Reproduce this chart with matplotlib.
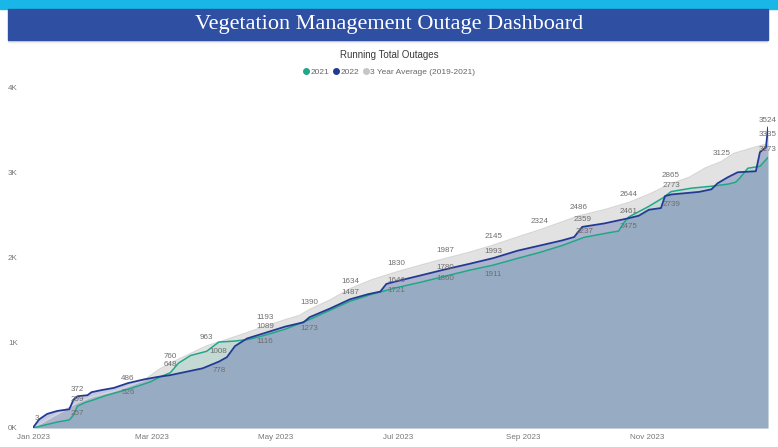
import matplotlib
matplotlib.use("Agg")
import matplotlib.pyplot as plt
import matplotlib.dates as mdates
from matplotlib.lines import Line2D
from matplotlib.patches import Rectangle
import numpy as np
import pandas as pd

# running totals, keyed by day of year (0 = Jan 1)
avg_days = [0, 3, 8, 15, 22, 30, 40, 47, 55, 62, 68, 76, 86, 95, 105, 115, 125, 132, 137,
            147, 157, 168, 180, 192, 204, 216, 228, 240, 251, 260, 270, 283, 295, 305, 316,
            325, 333, 341, 347, 357, 364]
avg_vals = [0, 40, 110, 200, 299, 370, 430, 486, 560, 680, 760, 850, 963, 1030, 1110, 1193,
            1270, 1320, 1390, 1500, 1634, 1740, 1830, 1910, 1987, 2060, 2145, 2240, 2324,
            2400, 2486, 2560, 2644, 2740, 2865, 2940, 3050, 3125, 3220, 3290, 3335]

y2021_days = [0, 5, 12, 18, 20, 22, 26, 30, 36, 42, 47, 53, 58, 63, 68, 72, 78, 86, 92,
              100, 107, 115, 125, 137, 147, 157, 168, 180, 192, 204, 216, 228, 240, 251,
              262, 273, 285, 290, 293, 295, 305, 312, 316, 326, 336, 344, 348, 350, 354,
              360, 364]
y2021_vals = [0, 30, 70, 95, 150, 257, 300, 330, 380, 420, 455, 500, 540, 600, 648, 760,
              850, 900, 1008, 1020, 1040, 1089, 1160, 1273, 1380, 1487, 1570, 1646, 1710,
              1780, 1850, 1911, 1990, 2060, 2140, 2237, 2290, 2310, 2420, 2475, 2600, 2700,
              2773, 2813, 2836, 2860, 2883, 2930, 3047, 3070, 3173]

y2022_days = [0, 3, 7, 12, 18, 20, 22, 27, 29, 34, 40, 47, 55, 62, 68, 76, 84, 92, 96,
              100, 106, 115, 125, 134, 137, 147, 157, 166, 172, 175, 180, 192, 204, 216,
              228, 240, 251, 262, 268, 272, 283, 295, 300, 305, 311, 313, 316, 330, 336,
              339, 344, 349, 358, 360, 363, 364]
y2022_vals = [3, 100, 165, 200, 220, 330, 372, 385, 420, 445, 470, 526, 570, 600, 620,
              660, 700, 778, 830, 960, 1050, 1116, 1190, 1240, 1300, 1400, 1510, 1570, 1600,
              1690, 1721, 1790, 1860, 1925, 1993, 2080, 2140, 2200, 2240, 2359, 2400, 2461,
              2490, 2560, 2580, 2720, 2739, 2770, 2800, 2870, 2940, 3000, 3012, 3235, 3293,
              3524]

# days that carry a data label, with the label's vertical shift in points
avg_label_days = [22, 47, 68, 86, 115, 137, 157, 180, 204, 228, 251, 270, 295, 316, 341, 364]
avg_label_dy = [2, 6, 5, 6, 6, 5, 5, 6, 6, 6, 6, 6, 6, 6, 6, 6.5]
y2021_label_days = [22, 68, 92, 115, 137, 157, 180, 204, 228, 273, 295, 316, 364]
y2021_label_dy = [-5, 6, -7, 6, -6.5, 6, 5.5, 6, -7, 4.5, -7, 4.5, 6]
y2022_label_days = [0, 22, 47, 92, 115, 180, 204, 228, 272, 295, 316, 364]
y2022_label_dy = [6.5, 5, -7, -6.5, -6.5, -6.5, -6.5, 5, 5.5, 5, -7, 5]

start = pd.Timestamp("2023-01-01")


def to_dates(days):
    return start + pd.to_timedelta(days, unit="D")


c_avg = "#c6c6c6"
c_21 = "#1fa788"
c_22 = "#233a94"
label_col = "#6e6e6e"

fig = plt.figure(figsize=(7.78, 4.47), dpi=100)
W, H = 778, 447

# header strip and banner
fig.patches.append(Rectangle((0, 1 - 9 / H), 1, 9 / H, transform=fig.transFigure,
                             color="#19b7e8", zorder=0))
for i, a in enumerate([0.18, 0.12, 0.07, 0.03]):
    fig.patches.append(Rectangle((8 / W, 1 - (41 + i) / H), 760 / W, 1 / H,
                                 transform=fig.transFigure, color="black", alpha=a, lw=0))
fig.patches.append(Rectangle((8 / W, 1 - 40 / H), 760 / W, 31 / H, transform=fig.transFigure,
                             color="#2e4fa2", zorder=1))
fig.text(0.5, 1 - 24 / H, "Vegetation Management Outage Dashboard", ha="center", va="center",
         color="white", fontsize=16, family="Liberation Serif")

fig.text(0.5, 1 - 55 / H, "Running Total Outages", ha="center", va="center",
         color="#3a3a3a", fontsize=7, family="Liberation Sans")

ax = fig.add_axes([33 / W, (H - 428) / H, 735 / W, 341 / H])

for days, vals, col, a in [(avg_days, avg_vals, c_avg, 0.5),
                           (y2021_days, y2021_vals, c_21, 0.15),
                           (y2022_days, y2022_vals, c_22, 0.28)]:
    ax.fill_between(to_dates(days), 0, vals, color=col, alpha=a, lw=0)
for days, vals, col, lw in [(avg_days, avg_vals, "#d6d6d6", 1.0),
                            (y2021_days, y2021_vals, c_21, 1.1),
                            (y2022_days, y2022_vals, c_22, 1.3)]:
    ax.plot(to_dates(days), vals, color=col, lw=lw)

for days, vals, ldays, ldy in [(avg_days, avg_vals, avg_label_days, avg_label_dy),
                               (y2021_days, y2021_vals, y2021_label_days, y2021_label_dy),
                               (y2022_days, y2022_vals, y2022_label_days, y2022_label_dy)]:
    lookup = dict(zip(days, vals))
    for dd, dy in zip(ldays, ldy):
        v = lookup[dd]
        dx = 3 if dd == 0 else 0
        ax.annotate(str(v), (to_dates([dd])[0], v), xytext=(dx, dy), textcoords="offset points",
                    ha="center", va="center", fontsize=5.8, color=label_col,
                    family="Liberation Sans")

ax.set_xlim(start, to_dates([364])[0])
ax.set_ylim(0, 4000)
ax.set_yticks([0, 1000, 2000, 3000, 4000])
ax.set_yticklabels(["0K", "1K", "2K", "3K", "4K"])
ax.xaxis.set_major_locator(mdates.MonthLocator(bymonth=[1, 3, 5, 7, 9, 11]))
ax.xaxis.set_major_formatter(mdates.DateFormatter("%b %Y"))
ax.tick_params(length=0, labelsize=5.8, labelcolor="#777777")
ax.tick_params(axis="y", pad=11)
ax.tick_params(axis="x", pad=4)
for lbl in ax.get_xticklabels() + ax.get_yticklabels():
    lbl.set_family("Liberation Sans")
for s in ax.spines.values():
    s.set_visible(False)

handles = [Line2D([], [], marker="o", ls="", color=c_21, markersize=4),
           Line2D([], [], marker="o", ls="", color=c_22, markersize=4),
           Line2D([], [], marker="o", ls="", color=c_avg, markersize=4)]
fig.legend(handles, ["2021", "2022", "3 Year Average (2019-2021)"], loc="center",
           bbox_to_anchor=(0.5, 1 - 72 / H), ncol=3, frameon=False, handletextpad=0.05,
           columnspacing=0.5, handlelength=0.8,
           prop={"family": "Liberation Sans", "size": 6}, labelcolor="#666666")

fig.savefig("out.png", dpi=100)
